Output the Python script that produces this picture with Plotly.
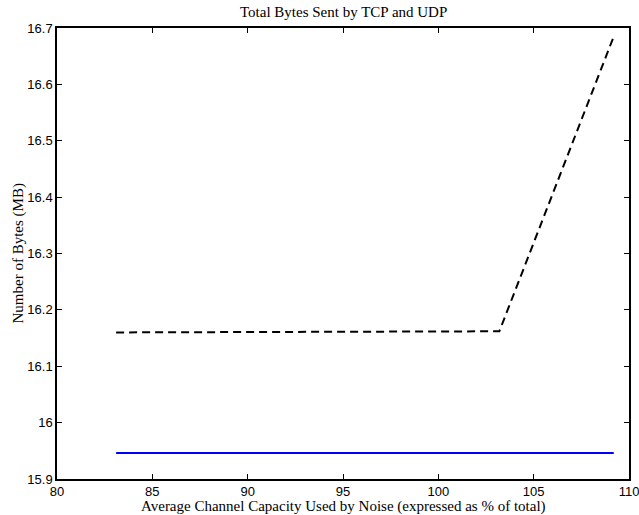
import plotly.graph_objects as go

# Data
noise_pct = [83.1, 103.2, 109.2]
tcp_mb = [16.160, 16.162, 16.685]
udp_x = [83.1, 109.2]
udp_mb = [15.946, 15.946]

x_ticks = [80, 85, 90, 95, 100, 105, 110]
y_ticks = [15.9, 16.0, 16.1, 16.2, 16.3, 16.4, 16.5, 16.6, 16.7]
y_tick_text = ["15.9", "16", "16.1", "16.2", "16.3", "16.4", "16.5", "16.6", "16.7"]

serif = "Liberation Serif, Times New Roman, serif"
sans = "Liberation Sans, Arial, sans-serif"

fig = go.Figure()
fig.add_trace(go.Scatter(x=noise_pct, y=tcp_mb, mode="lines",
                         line=dict(color="black", width=2, dash="8px,5px"),
                         showlegend=False))
fig.add_trace(go.Scatter(x=udp_x, y=udp_mb, mode="lines",
                         line=dict(color="#0000ff", width=2),
                         showlegend=False))

axis_common = dict(showgrid=False, zeroline=False, showline=True, mirror="ticks",
                   linecolor="black", linewidth=1.5, ticks="inside", ticklen=5,
                   tickcolor="black", tickwidth=1, automargin=False,
                   ticklabeloverflow="allow",
                   tickfont=dict(family=sans, size=13, color="black"))

L, R, T, B = 57, 10, 28, 36
W, H = 639, 515
pw, ph = W - L - R, H - T - B

fig.update_layout(
    width=W, height=H,
    margin=dict(l=L, r=R, t=T, b=B),
    paper_bgcolor="white", plot_bgcolor="white",
    xaxis=dict(range=[80, 110], tickvals=x_ticks, ticktext=[str(v) for v in x_ticks],
               ticklabelstandoff=0, **axis_common),
    yaxis=dict(range=[15.9, 16.7], tickvals=y_ticks, ticktext=y_tick_text,
               **axis_common),
)

fig.add_annotation(text="Total Bytes Sent by TCP and UDP", xref="paper", yref="paper",
                   x=0.5, y=1 + (T - 12) / ph, xanchor="center", yanchor="middle",
                   showarrow=False, font=dict(family=serif, size=15, color="black"))
fig.add_annotation(text="Average Channel Capacity Used by Noise (expressed as % of total)",
                   xref="paper", yref="paper", x=0.5, y=-(27 / ph),
                   xanchor="center", yanchor="middle", showarrow=False,
                   font=dict(family=serif, size=15, color="black"))
fig.add_annotation(text="Number of Bytes (MB)", xref="paper", yref="paper",
                   x=-(39 / pw), y=0.5, xanchor="center", yanchor="middle",
                   textangle=-90, showarrow=False,
                   font=dict(family=serif, size=15, color="black"))

fig.write_html("out.html")
